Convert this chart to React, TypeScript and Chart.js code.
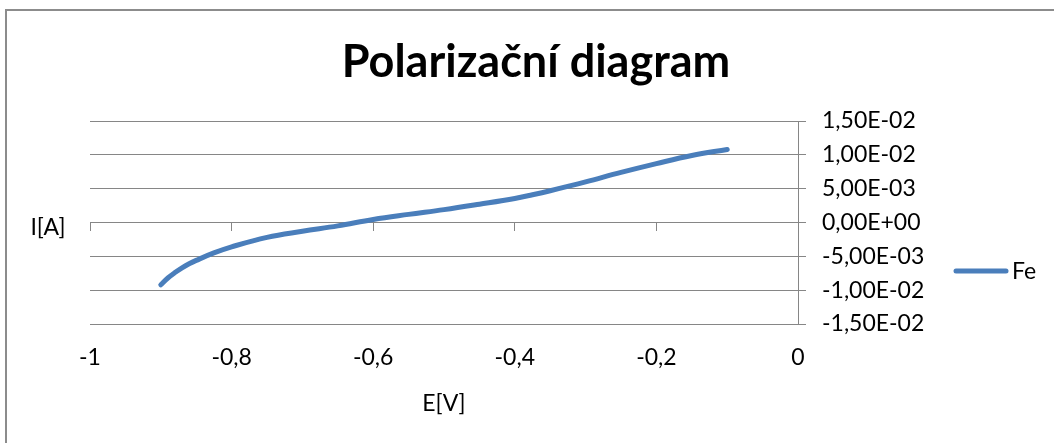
import { useEffect, useRef } from 'react';
import { Chart, registerables } from 'chart.js';

Chart.register(...registerables);

// Measured polarization curve of iron: electrode potential E [V] vs. current I [A]
const potentialV = [-0.9, -0.89, -0.88, -0.87, -0.86, -0.85, -0.825, -0.8, -0.75, -0.7, -0.65, -0.6, -0.55, -0.5, -0.45, -0.4, -0.375, -0.35, -0.3, -0.25, -0.2, -0.15, -0.1];
const currentA = [-0.0092, -0.0082, -0.0074, -0.0067, -0.0061, -0.0056, -0.0045, -0.0036, -0.0022, -0.0013, -0.0005, 0.00045, 0.0012, 0.0019, 0.0027, 0.00355, 0.0041, 0.0047, 0.0060, 0.0074, 0.0087, 0.0099, 0.0108];

const xTicks = [-1, -0.8, -0.6, -0.4, -0.2, 0];
const xTickLabels = ['-1', '-0,8', '-0,6', '-0,4', '-0,2', '0'];
const yTicks = [-0.015, -0.01, -0.005, 0, 0.005, 0.01, 0.015];
const yTickLabels = ['-1,50E-02', '-1,00E-02', '-5,00E-03', '0,00E+00', '5,00E-03', '1,00E-02', '1,50E-02'];

const FONT = 'Lato, "Open Sans", sans-serif';
const AXIS_GRAY = '#868686';
const LINE_BLUE = '#4a7ebb';

const chartDecor = {
  id: 'chartDecor',
  beforeDraw(chart: any) {
    const { ctx } = chart;
    ctx.save();
    ctx.strokeStyle = '#8c8c8c';
    ctx.lineWidth = 2;
    ctx.strokeRect(6, 10, 2000, 2000);
    ctx.restore();
  },
  afterDraw(chart: any) {
    const { ctx, chartArea } = chart;
    ctx.save();
    ctx.fillStyle = '#000';
    ctx.font = `23px ${FONT}`;
    ctx.textBaseline = 'middle';
    // horizontal value-axis title
    ctx.textAlign = 'center';
    ctx.fillText('I[A]', 48, (chartArea.top + chartArea.bottom) / 2 + 5);
    // legend
    const ds = chart.data.datasets[0];
    const ly = 271;
    ctx.strokeStyle = ds.borderColor;
    ctx.lineWidth = ds.borderWidth;
    ctx.lineCap = 'round';
    ctx.beginPath();
    ctx.moveTo(956, ly);
    ctx.lineTo(1006, ly);
    ctx.stroke();
    ctx.textAlign = 'left';
    ctx.fillText(ds.label, 1012, ly + 1);
    ctx.restore();
  },
};

export default function App() {
  const canvasRef = useRef<HTMLCanvasElement | null>(null);

  useEffect(() => {
    const canvas = canvasRef.current;
    if (!canvas) return;
    const chart = new Chart(canvas, {
      type: 'line',
      data: {
        datasets: [
          {
            label: 'Fe',
            data: potentialV.map((x, i) => ({ x, y: currentA[i] })),
            borderColor: LINE_BLUE,
            backgroundColor: LINE_BLUE,
            borderWidth: 5,
            borderCapStyle: 'round',
            borderJoinStyle: 'round',
            pointRadius: 0,
            pointHoverRadius: 0,
            tension: 0.4,
            fill: false,
          },
        ],
      },
      options: {
        responsive: false,
        animation: false,
        layout: { padding: { left: 18, right: 0, top: 0, bottom: 0 } },
        plugins: {
          legend: { display: false },
          tooltip: { enabled: false },
          title: {
            display: true,
            text: 'Polarizační diagram',
            color: '#000',
            font: { family: FONT, size: 45, weight: 'bold', lineHeight: 1.2 },
            padding: { top: 35, bottom: 32 },
          },
        },
        scales: {
          x: {
            type: 'linear',
            position: 'bottom',
            min: -1,
            max: 0,
            afterBuildTicks: (s: any) => {
              s.ticks = xTicks.map((value) => ({ value }));
            },
            afterFit: (s: any) => {
              s.height = 119;
            },
            grid: { display: false, drawTicks: false },
            border: { display: false },
            ticks: {
              color: '#000',
              padding: 20,
              maxRotation: 0,
              font: { family: FONT, size: 23 },
              callback: (_v: any, i: number) => xTickLabels[i],
            },
            title: {
              display: true,
              text: 'E[V]',
              color: '#000',
              font: { family: FONT, size: 23, lineHeight: 1.2 },
              padding: { top: 0, bottom: 26 },
            },
          },
          xAxisLine: {
            type: 'linear',
            position: { y: 0 },
            min: -1,
            max: 0,
            afterBuildTicks: (s: any) => {
              s.ticks = xTicks.map((value) => ({ value }));
            },
            grid: { display: true, drawOnChartArea: false, drawTicks: true, tickLength: 8, color: AXIS_GRAY, lineWidth: 1 },
            border: { display: true, color: AXIS_GRAY, width: 1 },
            ticks: { display: false },
          },
          yLeftSpace: {
            type: 'linear',
            position: 'left',
            min: -0.015,
            max: 0.015,
            afterFit: (s: any) => {
              s.width = 72;
            },
            grid: { display: false },
            border: { display: false },
            ticks: { display: false },
          },
          y: {
            type: 'linear',
            position: 'right',
            min: -0.015,
            max: 0.015,
            afterBuildTicks: (s: any) => {
              s.ticks = yTicks.map((value) => ({ value }));
            },
            afterFit: (s: any) => {
              s.width = 256;
            },
            grid: { color: AXIS_GRAY, lineWidth: 1, drawTicks: true, tickLength: 8 },
            border: { display: true, color: AXIS_GRAY, width: 1 },
            ticks: {
              color: '#000',
              padding: 16,
              font: { family: FONT, size: 23 },
              callback: (_v: any, i: number) => yTickLabels[i],
            },
          },
        },
      },
      plugins: [chartDecor],
    } as any);
    return () => chart.destroy();
  }, []);

  return (
    <div style={{ position: 'fixed', left: 0, top: 0, width: 1054, height: 443, background: '#fff' }}>
      <canvas ref={canvasRef} width={1054} height={443} />
    </div>
  );
}
